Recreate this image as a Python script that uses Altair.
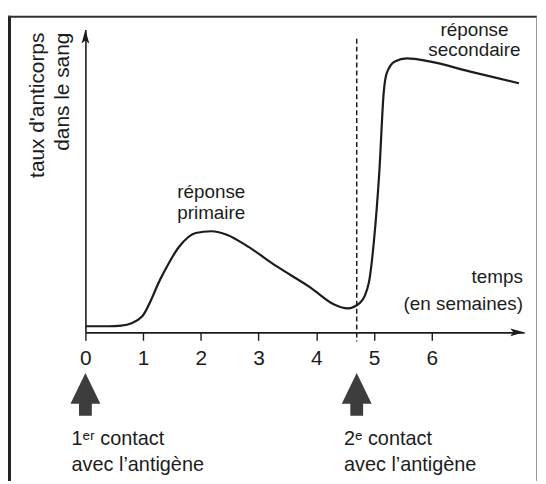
import altair as alt
import pandas as pd

# ---- data (x in weeks, y in arbitrary antibody level 0-100) ----
weeks = [0.0, 0.4, 0.62, 0.8, 0.98, 1.32, 1.62, 1.91, 2.18, 2.47, 2.77, 3.33, 3.90, 4.31, 4.54,
         4.76, 4.91, 5.00, 5.09, 5.17, 5.22, 5.36, 5.57, 5.96, 6.65, 7.51]
level = [2.0, 2.0, 2.2, 3.0, 5.2, 18.4, 28.2, 32.8, 33.4, 32.1, 28.9, 21.6, 14.8, 9.2, 7.9,
         9.8, 16.4, 30.5, 52.5, 79.7, 85.6, 89.5, 90.5, 89.5, 86.2, 82.3]

tick_values = [0, 1, 2, 3, 4, 5, 6]
contact_weeks = [0.0, 4.7]

ann_text = ["réponse", "primaire", "réponse", "secondaire"]
ann_x = [2.18, 2.18, 6.74, 6.74]
ann_y = [46.2, 39.3, 100.0, 93.4]

time_text = ["temps", "(en semaines)"]
time_x = [7.58, 7.58]
time_y = [18.4, 9.5]

contact_text = ["1ᵉʳ contact", "avec l’antigène", "2ᵉ contact", "avec l’antigène"]
contact_x = [-0.24, -0.24, 4.48, 4.48]
contact_y = [-35.3, -43.8, -35.3, -43.8]

ytitle_text = ["taux d'anticorps", "dans le sang"]
ytitle_x = [-0.825, -0.395]
ytitle_y = [99.0, 99.0]

FONT = "Liberation Sans, Arial, sans-serif"
INK = "#1c1c1c"

xs = alt.Scale(domain=[0, 7.6], nice=False, zero=False)
ys = alt.Scale(domain=[0, 100], nice=False, zero=False)

xaxis = alt.Axis(
    values=tick_values, title=None, grid=False, domainColor=INK, domainWidth=1.6,
    tickColor=INK, tickWidth=1.4, tickSize=8, labelFont=FONT, labelFontSize=21,
    labelColor=INK, labelPadding=7, format="d", labelFlush=False)
yaxis = alt.Axis(title=None, grid=False, ticks=False, labels=False, domainColor=INK, domainWidth=1.6)


def X(field):
    return alt.X(field, type="quantitative", scale=xs, axis=xaxis)


def Y(field):
    return alt.Y(field, type="quantitative", scale=ys, axis=yaxis)


curve_df = pd.DataFrame({"w": weeks, "v": level})
curve = alt.Chart(curve_df).mark_line(
    color=INK, strokeWidth=2.2, interpolate="monotone"
).encode(x=X("w"), y=Y("v"))

# dashed marker of the second contact
dash_df = pd.DataFrame({"w": [contact_weeks[1]], "y0": [97.0], "y1": [-3.0]})
dash = alt.Chart(dash_df).mark_rule(color=INK, strokeWidth=1.5, strokeDash=[5, 3]).encode(
    x=X("w"), y=Y("y0"), y2="y1:Q")

# axis arrow heads
xhead = alt.Chart(pd.DataFrame({"w": [7.6 - 7 / 58.2], "v": [0.0]})).mark_point(
    shape="M-1,-0.55 L1,0 L-1,0.55 L-0.55,0 Z", size=196, filled=True, color=INK, opacity=1
).encode(x=X("w"), y=Y("v"))

yhead = alt.Chart(pd.DataFrame({"w": [0.0], "v": [100 - 7 / 3.05]})).mark_point(
    shape="M-0.55,1 L0,-1 L0.55,1 L0,0.55 Z", size=196, filled=True, color=INK, opacity=1
).encode(x=X("w"), y=Y("v"))

# big contact arrows
arrows = alt.Chart(pd.DataFrame({"w": contact_weeks, "v": [-20.5, -20.5]})).mark_point(
    shape="M0,-1 L0.7,0.44 L0.3,0.44 L0.3,1 L-0.3,1 L-0.3,0.44 L-0.7,0.44 Z",
    size=1849, filled=True, color="#3d3d3d", opacity=1, strokeWidth=0
).encode(x=X("w"), y=Y("v"))


def text_layer(texts, xv, yv, align, size, angle=0):
    df = pd.DataFrame({"t": texts, "w": xv, "v": yv})
    return alt.Chart(df).mark_text(
        align=align, baseline="middle", font=FONT, fontSize=size, color=INK, angle=angle
    ).encode(x=X("w"), y=Y("v"), text="t:N")


ann = text_layer(ann_text, ann_x, ann_y, "center", 19)
tim = text_layer(time_text, time_x, time_y, "right", 19)
con = text_layer(contact_text, contact_x, contact_y, "left", 20)
ytl = text_layer(ytitle_text, ytitle_x, ytitle_y, "right", 21, angle=270)

# page frame (decoration)
frame_left = alt.Chart(pd.DataFrame({"a": [0]})).mark_rule(color="#222222", strokeWidth=3).encode(
    x=alt.value(-76.5), y=alt.value(-14), y2=alt.value(460))
frame_top = alt.Chart(pd.DataFrame({"a": [0]})).mark_rule(color="#333333", strokeWidth=2).encode(
    x=alt.value(-78), x2=alt.value(455), y=alt.value(-13))
frame_right = alt.Chart(pd.DataFrame({"a": [0]})).mark_rule(color="#9a9a9a", strokeWidth=1).encode(
    x=alt.value(454.5), y=alt.value(-13), y2=alt.value(460))

chart = alt.layer(
    curve, dash, xhead, yhead, arrows, ann, tim, con, ytl,
    frame_left, frame_top, frame_right,
).properties(
    width=442, height=305,
    autosize=alt.AutoSizeParams(type="none"),
    padding={"left": 78, "top": 20, "right": 14, "bottom": 148},
    background="white",
).configure_view(stroke=None)

chart.save("out.html", embed_options={"renderer": "svg", "actions": False})
